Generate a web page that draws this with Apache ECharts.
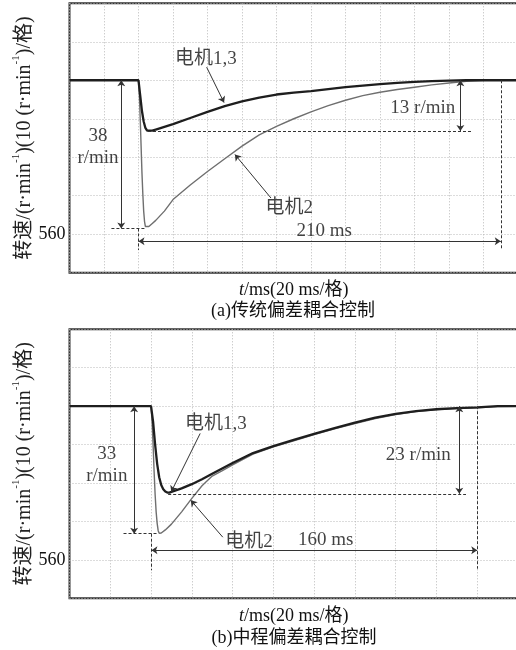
<!DOCTYPE html>
<html>
<head>
<meta charset="utf-8">
<script src="https://cdn.jsdelivr.net/npm/echarts@6/dist/echarts.min.js"></script>
<style>
html, body { margin: 0; padding: 0; background: #fff; overflow: hidden; }
#chart { width: 516px; height: 650px; }
</style>
</head>
<body>
<div id="chart"></div>
<script>
// 转速数据 [t(ms), 转速(r/min)]
// (a) 传统偏差耦合控制
const topMotor2 = [
  [0, 600], [40, 600], [40.5, 596], [41, 590], [41.5, 583], [42, 576], [42.5, 570.5],
  [43, 566], [43.5, 563.3], [44, 562], [44.5, 561.5], [45, 561.6], [46, 562], [48, 562.8],
  [50, 563.6], [55, 566], [60, 569], [70, 572.8], [80, 576.3], [90, 579.6], [100, 582.9],
  [110, 585.8], [120, 588], [130, 590], [140, 591.8], [150, 593.4], [160, 594.8],
  [170, 596], [180, 596.9], [190, 597.6], [200, 598.2], [210, 598.8], [220, 599.3],
  [230, 599.7], [240, 600], [260, 600],
];
const topMotor13 = [
  [0, 600], [40, 600], [41, 596], [42, 592], [43, 589.3], [44, 587.6], [45, 586.9],
  [46, 586.7], [48, 586.9], [50, 587.2], [55, 587.9], [60, 588.6], [70, 590.2],
  [80, 591.8], [90, 593.3], [100, 594.5], [110, 595.5], [120, 596.3], [130, 596.8],
  [140, 597.2], [150, 597.7], [160, 598.2], [170, 598.6], [180, 599], [190, 599.3],
  [200, 599.6], [210, 599.8], [220, 599.9], [230, 600], [260, 600],
];
// (b) 中程偏差耦合控制
const botMotor2 = [
  [0, 600], [40, 600], [40.5, 596], [41, 590], [41.5, 583], [42, 577], [42.5, 572.5],
  [43, 569.5], [43.5, 567.6], [44, 566.9], [44.5, 566.8], [45, 567], [47, 567.8],
  [50, 569.3], [55, 572.5], [60, 576], [65, 579.3], [70, 581.8], [75, 583.2], [80, 584.7],
  [90, 587.5], [100, 589.4], [110, 591], [120, 592.6], [130, 594.1], [140, 595.5],
  [150, 596.8], [160, 597.8], [170, 598.6], [180, 599.1], [190, 599.4], [200, 599.6],
  [210, 599.9], [220, 600],
];
const botMotor13 = [
  [0, 600], [40, 600], [41, 596], [42, 590], [43, 585], [44, 581.5], [45, 579.5],
  [46, 578.4], [47, 577.8], [48, 577.5], [49, 577.5], [50, 577.7], [55, 578.6],
  [60, 579.7], [65, 581], [70, 582.4], [80, 585.2], [90, 587.8], [100, 589.6],
  [110, 591.2], [120, 592.8], [130, 594.3], [140, 595.7], [150, 597], [160, 598],
  [170, 598.7], [180, 599.2], [190, 599.5], [200, 599.7], [210, 600], [220, 600],
];

// 只标注 560 的刻度
const yTicks = [560];
const xMaxTop = 260;
const xMaxBot = 220;

// 标注线: [起点, 终点, 起点符号, 终点符号, 是否虚线]
const topMarks = [
  [[24.3, 561.5], [44.6, 561.5], 'none', 'none', true],
  [[40, 561.5], [40, 555.9], 'none', 'none', true],
  [[250, 600], [250, 556.3], 'none', 'none', true],
  [[45.5, 586.8], [233.8, 586.8], 'none', 'none', true],
  [[30, 600], [30, 561.5], 'arrow', 'arrow', false],
  [[40, 558.2], [250, 558.2], 'arrow', 'arrow', false],
  [[226.6, 600], [226.6, 586.8], 'arrow', 'arrow', false],
  [[79.5, 603.4], [89.6, 594.2], 'none', 'arrow', false],
  [[116.8, 569.4], [95.9, 580.7], 'none', 'arrow', false],
];
const botMarks = [
  [[26.5, 566.8], [43.5, 566.8], 'none', 'none', true],
  [[40.2, 566.8], [40.2, 557.3], 'none', 'none', true],
  [[200, 600], [200, 557.7], 'none', 'none', true],
  [[48.4, 577.2], [194.5, 577.2], 'none', 'none', true],
  [[31.7, 600], [31.7, 566.8], 'arrow', 'arrow', false],
  [[40.2, 562.5], [200, 562.5], 'arrow', 'arrow', false],
  [[191.2, 600], [191.2, 577.2], 'arrow', 'arrow', false],
  [[64.1, 592.9], [49.9, 577.7], 'none', 'arrow', false],
  [[75.2, 565.9], [59.5, 575.5], 'none', 'arrow', false],
];

// 文字标注: [t, 转速, 文字]
const topTexts = [
  [16.5, 582.6, '38\nr/min'],
  [204.8, 592.9, '13 r/min'],
  [147.7, 560.9, '210 ms'],
  [79, 605.6, '电机1,3'],
  [127.4, 566.8, '电机2'],
];
const botTexts = [
  [18.3, 584.6, '33\nr/min'],
  [171.1, 587.2, '23 r/min'],
  [125.7, 565.1, '160 ms'],
  [71.8, 595.3, '电机1,3'],
  [88, 564.6, '电机2'],
];

const FONT = '"Liberation Serif", "Noto Sans CJK SC", serif';
const yName = '转速/(r·min{s|-1})(10 (r·min{s|-1})/格)';
const xName = '{i|t}/ms(20 ms/格)';

function buildMarks(list) {
  return list.map(([a, b, s1, s2, dashed]) => [
    { coord: a, symbol: s1, symbolSize: 6, lineStyle: { type: dashed ? [3, 2] : 'solid' } },
    { coord: b, symbol: s2, symbolSize: 6 },
  ]);
}

function makeXAxis(idx, max) {
  return {
    type: 'value', gridIndex: idx, min: 0, max: max, interval: 20,
    axisLine: { show: false }, axisTick: { show: false }, axisLabel: { show: false },
    splitLine: { show: true, lineStyle: { type: [1, 2], color: '#b8b8b8' } },
    name: xName, nameLocation: 'middle', nameGap: 9,
    nameTextStyle: {
      fontFamily: FONT, fontSize: 18, color: '#111', verticalAlign: 'top',
      rich: { i: { fontFamily: FONT, fontSize: 18, fontStyle: 'italic', color: '#111' } },
    },
  };
}

function makeYAxis(idx) {
  return {
    type: 'value', gridIndex: idx, min: 550, max: 620, interval: 10,
    axisLine: { show: false }, axisTick: { show: false },
    axisLabel: {
      margin: 4, fontFamily: FONT, fontSize: 18, color: '#111',
      formatter: (v) => (yTicks.includes(v) ? String(v) : ''),
    },
    splitLine: { show: true, lineStyle: { type: [1, 2], color: '#b8b8b8' } },
    name: yName, nameLocation: 'middle', nameRotate: 90, nameGap: 31,
    nameMoveOverlap: false,
    nameTextStyle: {
      fontFamily: FONT, fontSize: 20, color: '#222',
      rich: { s: { fontFamily: FONT, fontSize: 11, color: '#222', verticalAlign: 'top', lineHeight: 28 } },
    },
  };
}

function lineSeries(idx, data, color, width, marks) {
  const s = {
    type: 'line', xAxisIndex: idx, yAxisIndex: idx, data: data,
    showSymbol: false, symbol: 'none',
    lineStyle: { color: color, width: width }, z: 3,
  };
  if (marks) {
    s.markLine = {
      silent: true, animation: false, symbolSize: 6,
      label: { show: false },
      lineStyle: { color: '#333', width: 1 },
      data: buildMarks(marks),
    };
  }
  return s;
}

function textSeries(idx, texts) {
  return {
    type: 'scatter', xAxisIndex: idx, yAxisIndex: idx, symbolSize: 0,
    data: texts, silent: true, z: 5,
    label: {
      show: true, position: 'inside', formatter: (p) => p.data[2],
      fontFamily: FONT, fontSize: 19, color: '#111', lineHeight: 22,
    },
  };
}

const mychart = echarts.init(document.getElementById('chart'));

const option = {
  animation: false,
  backgroundColor: '#fff',
  grid: [
    { left: 69.5, right: -2, top: 3.3, height: 269.4, show: true, borderColor: '#333', borderWidth: 2, outerBoundsMode: 'none' },
    { left: 69.5, right: -2, top: 329.3, height: 269, show: true, borderColor: '#333', borderWidth: 2, outerBoundsMode: 'none' },
  ],
  xAxis: [makeXAxis(0, xMaxTop), makeXAxis(1, xMaxBot)],
  yAxis: [makeYAxis(0), makeYAxis(1)],
  series: [
    lineSeries(0, topMotor2, '#6f6f6f', 1.4, topMarks),
    lineSeries(0, topMotor13, '#1e1e1e', 2.3),
    textSeries(0, topTexts),
    lineSeries(1, botMotor2, '#6f6f6f', 1.4, botMarks),
    lineSeries(1, botMotor13, '#1e1e1e', 2.3),
    textSeries(1, botTexts),
  ],
  graphic: [
    { type: 'text', x: 293, y: 311, style: { text: '(a)传统偏差耦合控制', font: '18px ' + FONT, fill: '#111', textAlign: 'center', textVerticalAlign: 'middle' } },
    { type: 'text', x: 294, y: 638, style: { text: '(b)中程偏差耦合控制', font: '18px ' + FONT, fill: '#111', textAlign: 'center', textVerticalAlign: 'middle' } },
  ],
};

mychart.setOption(option);

window.addEventListener('resize', () => {
  mychart.resize();
});
</script>
</body>
</html>
